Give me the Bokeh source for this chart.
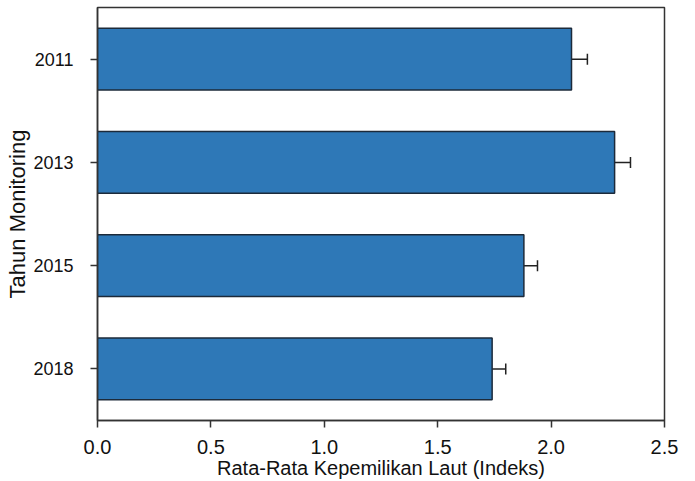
from bokeh.plotting import figure
from bokeh.models import ColumnDataSource, FactorRange, Range1d, Whisker, TeeHead, FixedTicker
from bokeh.embed import file_html
from bokeh.resources import INLINE

years = ["2011", "2013", "2015", "2018"]
means = [2.09, 2.28, 1.88, 1.74]
errors = [0.07, 0.07, 0.06, 0.06]
x_ticks = [0.0, 0.5, 1.0, 1.5, 2.0, 2.5]

upper = [m + e for m, e in zip(means, errors)]
src = ColumnDataSource(dict(year=years, mean=means, upper=upper))

p = figure(width=695, height=481, output_backend="svg", toolbar_location=None,
           title_location=None,
           y_range=FactorRange(*list(reversed(years))), x_range=Range1d(0, 2.5),
           min_border_left=97, min_border_right=31, min_border_top=7, min_border_bottom=61)

p.hbar(y="year", right="mean", left=0, height=0.6, source=src,
       fill_color="#2e78b7", line_color="#1c2a3a", line_width=1.5)

w = Whisker(source=src, base="year", lower="mean", upper="upper", dimension="width",
            line_color="#222222", line_width=1.5,
            upper_head=TeeHead(size=11, line_color="#222222", line_width=1.5),
            lower_head=None)
p.add_layout(w)

p.grid.visible = False
p.outline_line_color = "#333333"
p.outline_line_width = 1.5
p.background_fill_color = "white"
p.border_fill_color = "white"

font = "Liberation Sans"
p.xaxis.ticker = FixedTicker(ticks=x_ticks)
p.xaxis.major_label_overrides = {t: f"{t:.1f}" for t in x_ticks}
for ax in (p.xaxis[0], p.yaxis[0]):
    ax.axis_line_color = "#333333"
    ax.axis_line_width = 1.5
    ax.major_tick_line_color = "#333333"
    ax.major_tick_line_width = 1.5
    ax.major_tick_out = 7
    ax.major_tick_in = 0
    ax.minor_tick_line_color = None
    ax.major_label_text_font = font
    ax.major_label_text_color = "#111111"
    ax.axis_label_text_font = font
    ax.axis_label_text_font_style = "normal"
    ax.axis_label_text_color = "#111111"

p.xaxis.axis_label = "Rata-Rata Kepemilikan Laut (Indeks)"
p.xaxis.major_label_text_font_size = "20px"
p.xaxis.axis_label_text_font_size = "20px"
p.xaxis.major_label_standoff = 12
p.xaxis.axis_label_standoff = 0
p.yaxis.axis_label = "Tahun Monitoring"
p.yaxis.major_label_text_font_size = "18px"
p.yaxis.axis_label_text_font_size = "22px"
p.yaxis.major_label_standoff = 17
p.yaxis.axis_label_standoff = 0

open("out.html", "w").write(file_html(p, INLINE))
